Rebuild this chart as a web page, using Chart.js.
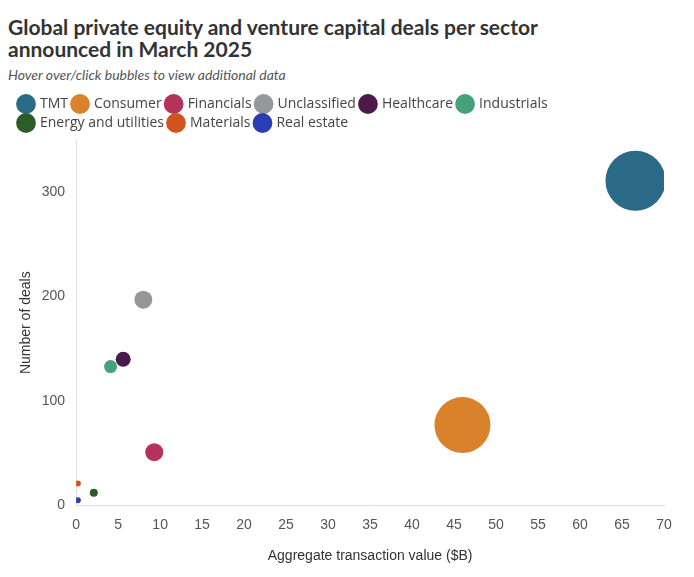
<!DOCTYPE html>
<html>
<head>
<meta charset="UTF-8">
<script src="https://cdn.jsdelivr.net/npm/chart.js"></script>
<style>
  body { margin: 0; background: #fff; font-family: Lato, "Open Sans", sans-serif; }
  #wrap { width: 694px; height: 577px; position: relative; }
  h1 { margin: 0; position: absolute; left: 8px; top: 16px; width: 580px; font-size: 21px; line-height: 22px; font-weight: bold; color: #333; }
  .sub { position: absolute; left: 8px; top: 66px; font-size: 14px; font-style: italic; color: #555; }
  #chartBox { position: absolute; left: 0; top: 92px; width: 694px; height: 485px; }
</style>
</head>
<body>
<div id="wrap">
  <h1>Global private equity and venture capital deals per sector announced in March 2025</h1>
  <div class="sub">Hover over/click bubbles to view additional data</div>
  <div id="chartBox"><canvas id="c"></canvas></div>
</div>
<script>
const sectors = ['TMT', 'Consumer', 'Financials', 'Unclassified', 'Healthcare', 'Industrials', 'Energy and utilities', 'Materials', 'Real estate'];
const transactionValue = [66.6, 46.0, 9.3, 8.0, 5.6, 4.1, 2.1, 0.2, 0.2];
const dealCount = [311, 77, 51, 197, 140, 133, 12, 21, 5];
const bubbleSize = [30, 28, 9, 9, 7.5, 6.5, 4, 3, 3];
const colors = ['#2a6a86', '#d9822b', '#b5325a', '#96979b', '#4a1a4a', '#46a07c', '#2a5e24', '#d2541c', '#2a3db5'];

const datasets = sectors.map((s, i) => ({
  label: s,
  data: [{ x: transactionValue[i], y: dealCount[i], r: bubbleSize[i] }],
  backgroundColor: colors[i],
  borderColor: colors[i],
  borderWidth: 0,
  hoverBorderWidth: 0
}));

new Chart(document.getElementById('c'), {
  type: 'bubble',
  data: { datasets },
  options: {
    responsive: true,
    maintainAspectRatio: false,
    animation: false,
    layout: { padding: { left: 14, right: 24, bottom: 8 } },
    plugins: {
      legend: {
        position: 'top',
        align: 'start',
        labels: {
          usePointStyle: true,
          pointStyle: 'circle',
          boxWidth: 14,
          boxHeight: 14,
          padding: 5,
          color: '#444',
          font: { size: 14, family: '"Open Sans", sans-serif' }
        }
      },
      tooltip: { enabled: true }
    },
    scales: {
      x: {
        min: 0, max: 70,
        ticks: { stepSize: 5, color: '#555', font: { size: 14 } },
        grid: { display: false },
        border: { color: '#ddd' },
        title: { display: true, text: 'Aggregate transaction value ($B)', color: '#333', font: { size: 14 }, padding: { top: 12 } }
      },
      y: {
        min: 0, max: 350,
        ticks: { stepSize: 100, color: '#555', font: { size: 14 }, callback: v => (v === 350 ? '' : v) },
        grid: { display: false },
        border: { color: '#ddd' },
        title: { display: true, text: 'Number of deals', color: '#333', font: { size: 14 } }
      }
    }
  }
});
</script>
</body>
</html>
